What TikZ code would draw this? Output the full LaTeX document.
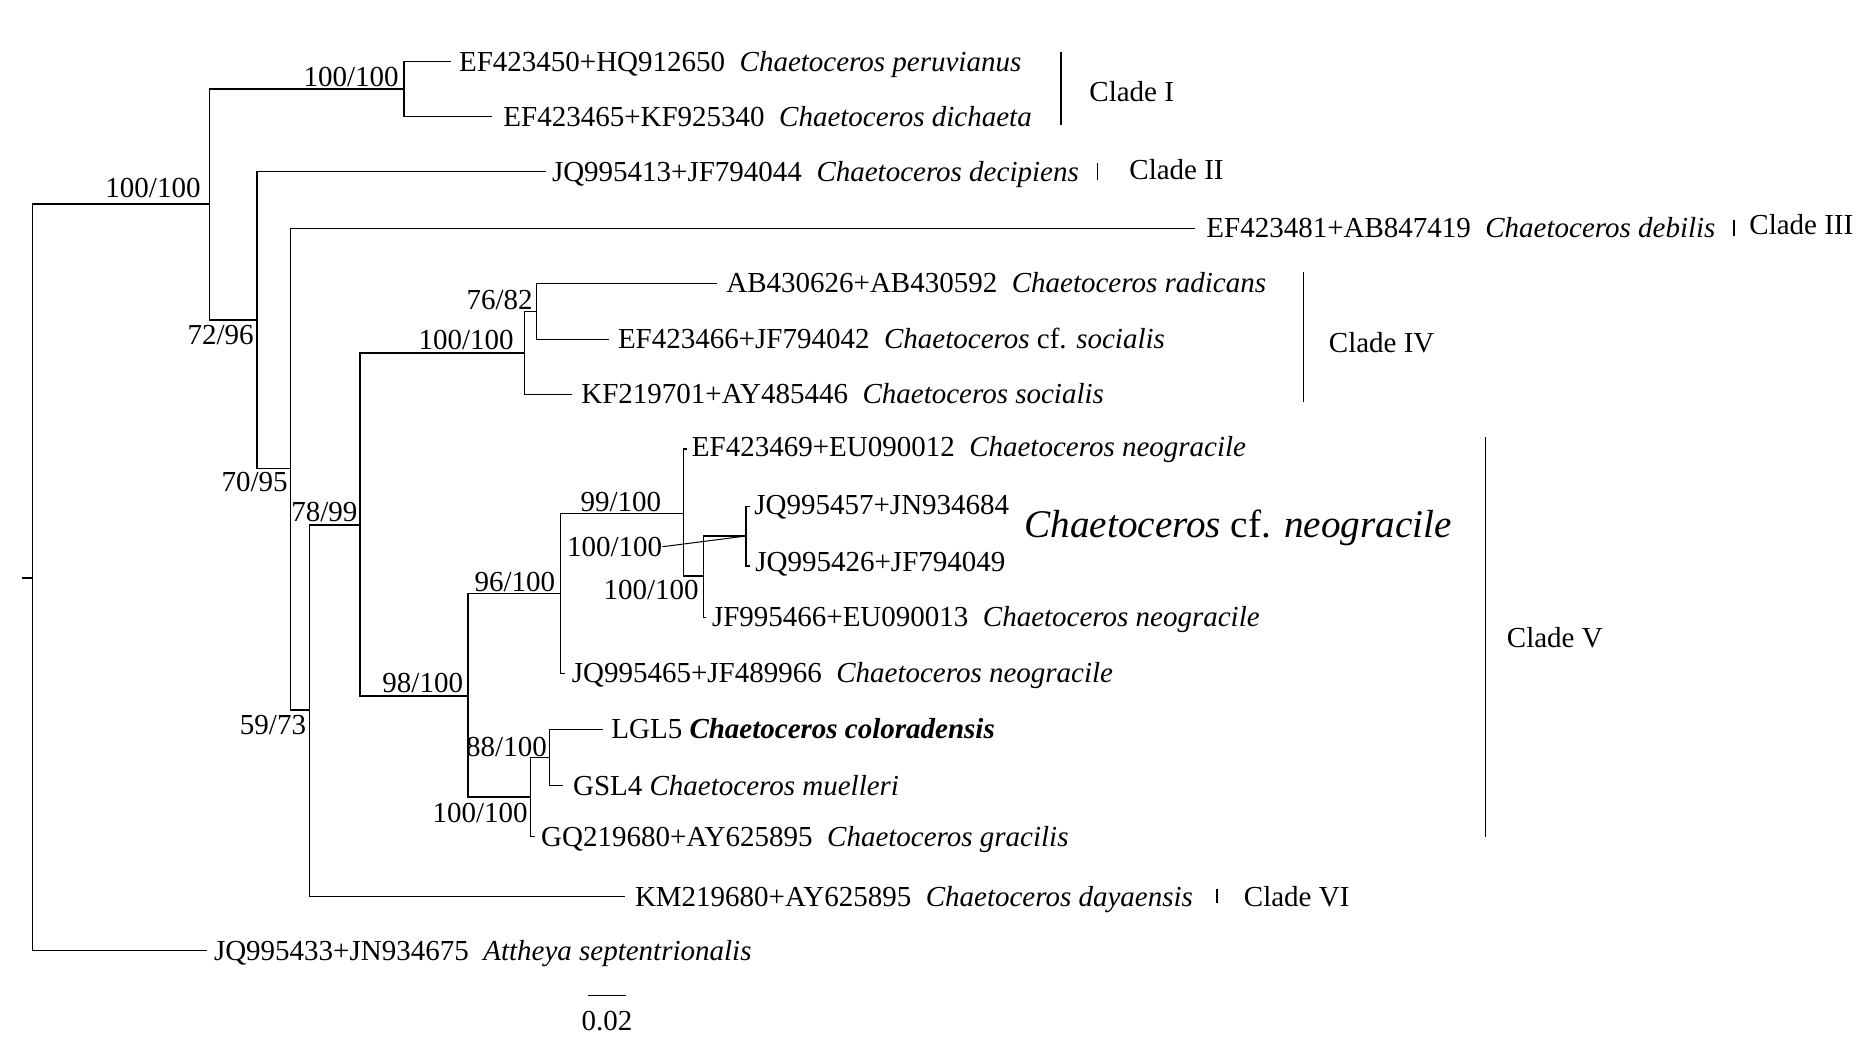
\documentclass[tikz,border=0pt]{standalone}
\usepackage{fontspec}
\setmainfont{Liberation Serif}
\begin{document}
\begin{tikzpicture}[x=0.5pt,y=-0.5pt,
  br/.style={line width=0.75pt},
  lab/.style={inner sep=0pt, text height=9.6pt, text depth=0pt, font=\fontsize{14.5}{17}\selectfont},
  leaf/.style={lab, anchor=west},
  bs/.style={lab, anchor=east},
  big/.style={inner sep=0pt, text height=12.9pt, text depth=0pt, anchor=west, font=\fontsize{19.6}{23}\selectfont}]
\useasboundingbox (0,0) rectangle (1873,1057);
\newcommand{\sg}{\hspace{0.5em}}
% internal nodes
\coordinate (stub) at (21.7,578);
\coordinate (R) at (32.4,578);
\coordinate (A) at (209.6,204);
\coordinate (C1) at (404,89);
\coordinate (N7296) at (257,320);
\coordinate (N7095) at (290.6,468.3);
\coordinate (N5973) at (309.5,710);
\coordinate (N7899) at (359.8,525);
\coordinate (NIV) at (524.7,353);
\coordinate (N7682) at (536.6,311.3);
\coordinate (N98) at (467.8,696);
\coordinate (N96) at (560.3,593.3);
\coordinate (N99) at (683.5,513.3);
\coordinate (Nc) at (703.6,576);
\coordinate (Nd) at (746,536);
\coordinate (Nb) at (530.6,797);
\coordinate (N88) at (549.7,757.3);
% leaf ends
\coordinate (Lperu) at (451,61.7);
\coordinate (Ldich) at (492,116.7);
\coordinate (Ldeci) at (545.7,171.7);
\coordinate (Ldebi) at (1195,228.3);
\coordinate (Lradi) at (716.7,283.3);
\coordinate (Lcfso) at (609,339.3);
\coordinate (Lsoci) at (572,394.3);
\coordinate (Lef69) at (687,449);
\coordinate (Ljq57) at (750,506.7);
\coordinate (Ljq26) at (750,566);
\coordinate (Ljf66) at (706,617.3);
\coordinate (Ljq65) at (565,673.3);
\coordinate (Llgl5) at (602.7,729.3);
\coordinate (Lgsl4) at (562.5,785.7);
\coordinate (Lgq) at (535,836.7);
\coordinate (Lkm) at (625,896.7);
\coordinate (Latt) at (207.3,950.7);
% branches
\draw[br] (stub) -- (R);
\draw[br] (R) |- (A);
\draw[br] (R) |- (Latt);
\draw[br] (A) |- (C1);
\draw[br] (A) |- (N7296);
\draw[br] (C1) |- (Lperu);
\draw[br] (C1) |- (Ldich);
\draw[br] (N7296) |- (Ldeci);
\draw[br] (N7296) |- (N7095);
\draw[br] (N7095) |- (Ldebi);
\draw[br] (N7095) |- (N5973);
\draw[br] (N5973) |- (N7899);
\draw[br] (N5973) |- (Lkm);
\draw[br] (N7899) |- (NIV);
\draw[br] (N7899) |- (N98);
\draw[br] (NIV) |- (N7682);
\draw[br] (NIV) |- (Lsoci);
\draw[br] (N7682) |- (Lradi);
\draw[br] (N7682) |- (Lcfso);
\draw[br] (N98) |- (N96);
\draw[br] (N98) |- (Nb);
\draw[br] (N96) |- (N99);
\draw[br] (N96) |- (Ljq65);
\draw[br] (N99) |- (Lef69);
\draw[br] (N99) |- (Nc);
\draw[br] (Nc) |- (Nd);
\draw[br] (Nc) |- (Ljf66);
\draw[br] (Nd) |- (Ljq57);
\draw[br] (Nd) |- (Ljq26);
\draw[br] (Nb) |- (N88);
\draw[br] (Nb) |- (Lgq);
\draw[br] (N88) |- (Llgl5);
\draw[br] (N88) |- (Lgsl4);
% leaf labels
\node[leaf] (tperu) at (458.7,61.7) {EF423450+HQ912650\sg\textit{Chaetoceros peruvianus}};
\node[leaf] (tdich) at (503,116.7) {EF423465+KF925340\sg\textit{Chaetoceros dichaeta}};
\node[leaf] (tdeci) at (551.6,171.7) {JQ995413+JF794044\sg\textit{Chaetoceros decipiens}};
\node[leaf] (tdebi) at (1206,228.3) {EF423481+AB847419\sg\textit{Chaetoceros debilis}};
\node[leaf] (tradi) at (726,283.3) {AB430626+AB430592\sg\textit{Chaetoceros radicans}};
\node[leaf] (tcfso) at (617.6,339.3) {EF423466+JF794042\sg\textit{Chaetoceros} cf. \textit{socialis}};
\node[leaf] (tsoci) at (581,394.3) {KF219701+AY485446\sg\textit{Chaetoceros socialis}};
\node[leaf] (tef69) at (691.5,447) {EF423469+EU090012\sg\textit{Chaetoceros neogracile}};
\node[leaf] (tjq57) at (754,505) {JQ995457+JN934684};
\node[leaf] (tjq26) at (755,562) {JQ995426+JF794049};
\node[leaf] (tjf66) at (711.6,617.3) {JF995466+EU090013\sg\textit{Chaetoceros neogracile}};
\node[leaf] (tjq65) at (571.4,673.3) {JQ995465+JF489966\sg\textit{Chaetoceros neogracile}};
\node[leaf] (tlgl5) at (611,729.3) {LGL5 \textbf{\textit{Chaetoceros coloradensis}}};
\node[leaf] (tgsl4) at (572.7,785.7) {GSL4 \textit{Chaetoceros muelleri}};
\node[leaf] (tgq) at (540.8,836.7) {GQ219680+AY625895\sg\textit{Chaetoceros gracilis}};
\node[leaf] (tkm) at (634.6,896.7) {KM219680+AY625895\sg\textit{Chaetoceros dayaensis}};
\node[leaf] (tatt) at (213.6,950.7) {JQ995433+JN934675\sg\textit{Attheya septentrionalis}};
\node[big] (tbig) at (1024,525) {\textit{Chaetoceros} cf. \textit{neogracile}};
% bootstrap labels
\node[bs] (b1) at (200.9,188) {100/100};
\node[bs] (b2) at (399,76.7) {100/100};
\node[bs] (b3) at (254,335) {72/96};
\node[bs] (b4) at (288,482) {70/95};
\node[bs] (b5) at (306.4,725) {59/73};
\node[bs] (b6) at (357.8,511.7) {78/99};
\node[bs] (b7) at (514,340) {100/100};
\node[bs] (b8) at (533,300) {76/82};
\node[bs] (b9) at (463.4,683.3) {98/100};
\node[bs] (b10) at (555.5,581.7) {96/100};
\node[bs] (b11) at (661.6,501.7) {99/100};
\node[bs] (b12) at (662.5,546.7) {100/100};
\node[bs] (b13) at (699,590) {100/100};
\node[bs] (b14) at (547.2,746.7) {88/100};
\node[bs] (b15) at (528,813.3) {100/100};
\draw[line width=0.5pt] (b12.east) -- (Nd);
% clade bars
\coordinate (c1t) at (1061.2,51.7); \coordinate (c1b) at (1061.2,125);
\coordinate (c2t) at (1097.4,163); \coordinate (c2b) at (1097.4,180);
\coordinate (c3t) at (1733.8,220); \coordinate (c3b) at (1733.8,236);
\coordinate (c4t) at (1303.5,271.7); \coordinate (c4b) at (1303.5,401.7);
\coordinate (c5t) at (1485.3,436.7); \coordinate (c5b) at (1485.3,836.7);
\coordinate (c6t) at (1217,889); \coordinate (c6b) at (1217,903);
\draw[br] (c1t) -- (c1b);
\draw[br] (c2t) -- (c2b);
\draw[br] (c3t) -- (c3b);
\draw[br] (c4t) -- (c4b);
\draw[br] (c5t) -- (c5b);
\draw[br] (c6t) -- (c6b);
\node[leaf] (k1) at (1089,91.7) {Clade I};
\node[leaf] (k2) at (1129,170) {Clade II};
\node[leaf] (k3) at (1749,225) {Clade III};
\node[leaf] (k4) at (1328.5,343.3) {Clade IV};
\node[leaf] (k5) at (1506.5,638.3) {Clade V};
\node[leaf] (k6) at (1243.5,897) {Clade VI};
% scale bar
\coordinate (s1) at (588,995.7); \coordinate (s2) at (626.3,995.7);
\draw[br] (s1) -- (s2);
\node[lab] (sl) at (607,1020.7) {0.02};
\end{tikzpicture}
\end{document}
